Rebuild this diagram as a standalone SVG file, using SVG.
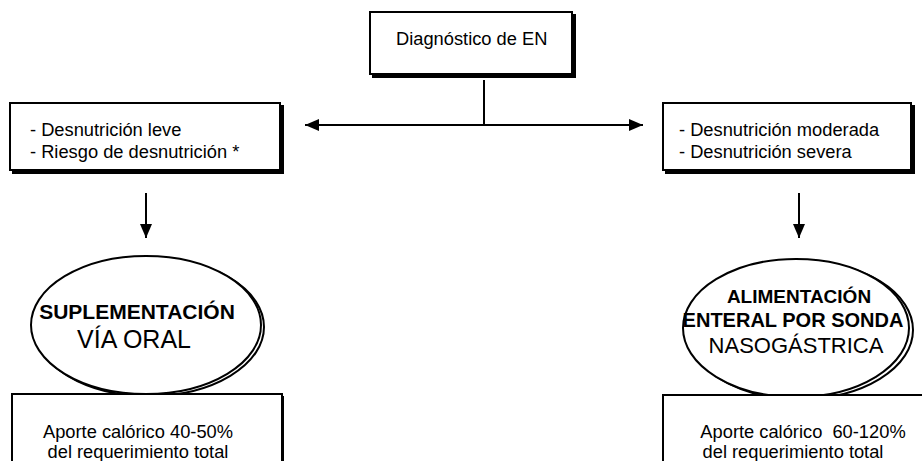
<svg xmlns="http://www.w3.org/2000/svg" width="922" height="461" viewBox="0 0 922 461">
<style>
text{font-family:"Liberation Sans",Arial,sans-serif;fill:#000}
.t{font-size:18.3px}
.b{font-weight:bold}
.box{fill:#fff;stroke:#000;stroke-width:2}
.sh{fill:#000}
.esh{fill:none;stroke:#000;stroke-width:2}
.ell{fill:#fff;stroke:#000;stroke-width:2}
.ln{stroke:#000;stroke-width:2;fill:none}
</style>
<defs>
<marker id="ah" viewBox="0 0 14 12" refX="14" refY="6" markerWidth="14" markerHeight="12" markerUnits="userSpaceOnUse" orient="auto">
<path d="M0,0 L14,6 L0,12 Z" fill="#000"/>
</marker>
</defs>
<g id="connectors">
<line class="ln" x1="484" y1="80" x2="484" y2="125"/>
<line class="ln" x1="484" y1="125" x2="305" y2="125" marker-end="url(#ah)"/>
<line class="ln" x1="484" y1="125" x2="643" y2="125" marker-end="url(#ah)"/>
<line class="ln" x1="146" y1="193" x2="146" y2="238" marker-end="url(#ah)"/>
<line class="ln" x1="799" y1="193" x2="799" y2="238" marker-end="url(#ah)"/>
</g>
<g id="diagnostico">
<rect class="sh" x="372" y="14" width="204" height="64"/>
<rect class="box" x="370" y="12" width="202" height="62"/>
<text class="t" x="396" y="45">Diagnóstico de EN</text>
</g>
<g id="leve">
<rect class="sh" x="12" y="105" width="272" height="69"/>
<rect class="box" x="10" y="103" width="270" height="67"/>
<text class="t" x="30" y="136">- Desnutrición leve</text>
<text class="t" x="30" y="158">- Riesgo de desnutrición *</text>
</g>
<g id="moderada">
<rect class="sh" x="665" y="105" width="250" height="69"/>
<rect class="box" x="663" y="103" width="248" height="67"/>
<text class="t" x="679" y="136">- Desnutrición moderada</text>
<text class="t" x="679" y="158">- Desnutrición severa</text>
</g>
<g id="suplementacion">
<ellipse class="esh" cx="149" cy="327" rx="115" ry="69"/>
<ellipse class="ell" cx="146" cy="325" rx="115" ry="69"/>
<text class="b" x="137" y="319" text-anchor="middle" font-size="21">SUPLEMENTACIÓN</text>
<text x="134" y="348" text-anchor="middle" font-size="25">VÍA ORAL</text>
</g>
<g id="sonda">
<ellipse class="esh" cx="800" cy="330" rx="113" ry="69"/>
<ellipse class="ell" cx="796" cy="328" rx="113" ry="69"/>
<text class="b" x="799" y="303" text-anchor="middle" font-size="19">ALIMENTACIÓN</text>
<text class="b" x="793" y="327" text-anchor="middle" font-size="20">ENTERAL POR SONDA</text>
<text x="796" y="353" text-anchor="middle" font-size="22">NASOGÁSTRICA</text>
</g>
<g id="aporte-oral">
<rect class="sh" x="14" y="396" width="270" height="70"/>
<rect class="box" x="12" y="394" width="270" height="70"/>
<text class="t" x="138" y="438" text-anchor="middle">Aporte calórico 40-50%</text>
<text class="t" x="138" y="458" text-anchor="middle">del requerimiento total</text>
</g>
<g id="aporte-sonda">
<rect class="sh" x="665" y="397" width="262" height="70"/>
<rect class="box" x="663" y="395" width="262" height="70"/>
<text class="t" x="803" y="438" text-anchor="middle" xml:space="preserve">Aporte calórico  60-120%</text>
<text class="t" x="793" y="458" text-anchor="middle">del requerimiento total</text>
</g>
</svg>
